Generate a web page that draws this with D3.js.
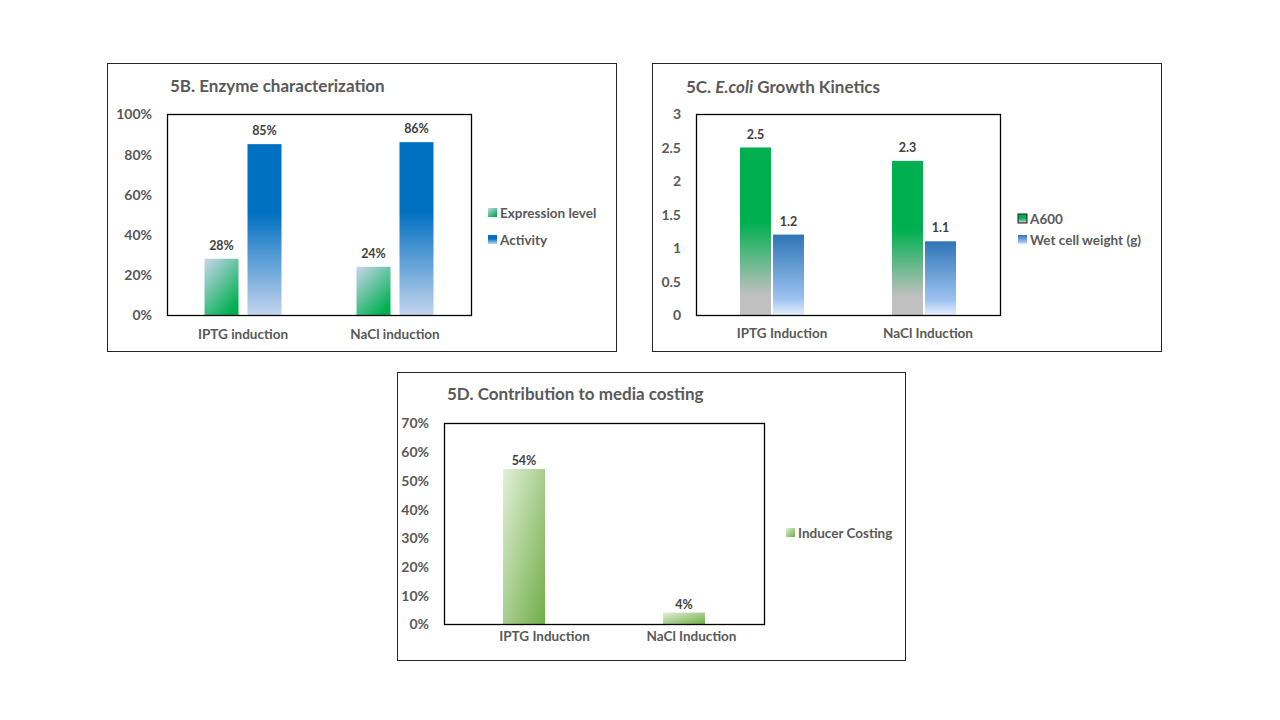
<!DOCTYPE html>
<html><head><meta charset="utf-8">
<script src="https://cdn.jsdelivr.net/npm/d3@7"></script>
<style>body{margin:0;background:#fff}svg text{font-family:Lato,"Open Sans",sans-serif;font-weight:bold}</style>
</head><body>
<svg id="c" width="1280" height="720"></svg>
<script>
// ---- data ----
const bCategories = ["IPTG induction", "NaCl induction"];
const bSeries = ["Expression level", "Activity"];
const bExpression = [0.28, 0.24];
const bActivity = [0.85, 0.86];
const bTicks = [0, 0.2, 0.4, 0.6, 0.8, 1.0];

const cCategories = ["IPTG Induction", "NaCl Induction"];
const cSeries = ["A600", "Wet cell weight (g)"];
const cA600 = [2.5, 2.3];
const cWet = [1.2, 1.1];
const cTicks = [0, 0.5, 1, 1.5, 2, 2.5, 3];

const dCategories = ["IPTG Induction", "NaCl Induction"];
const dSeries = ["Inducer Costing"];
const dCost = [0.54, 0.04];
const dTicks = [0, 0.1, 0.2, 0.3, 0.4, 0.5, 0.6, 0.7];

const svg = d3.select("#c");
const defs = svg.append("defs");
function grad(id, stops, x1, y1, x2, y2) {
  const g = defs.append("linearGradient").attr("id", id)
    .attr("x1", x1).attr("y1", y1).attr("x2", x2).attr("y2", y2);
  stops.forEach(s => g.append("stop").attr("offset", s[0]).attr("stop-color", s[1]));
}
grad("gExpr", [[0, "#c9d6ee"], [1, "#00b050"]], 0, 0, 0.7, 1);
grad("gAct", [[0, "#0070c0"], [0.4, "#0070c0"], [1, "#c3d4ee"]], 0, 0, 0, 1);
grad("gA600", [[0, "#00b050"], [0.45, "#00b050"], [0.88, "#c0c0c0"], [1, "#c0c0c0"]], 0, 0, 0, 1);
grad("gWet", [[0, "#2e75b6"], [0.8, "#9dc3f0"], [1, "#e6effc"]], 0, 0, 0, 1);
grad("gCost", [[0, "#e2f0d9"], [1, "#70ad47"]], 0, 0, 1, 1);

const txt = "#595959";

function panel(o) {
  const g = svg.append("g");
  g.append("rect").attr("x", o.box[0] + 0.5).attr("y", o.box[1] + 0.5)
    .attr("width", o.box[2]).attr("height", o.box[3])
    .attr("fill", "#fff").attr("stroke", "#262626").attr("stroke-width", 1);
  const t = g.append("text").attr("x", o.titleX).attr("y", o.titleY)
    .attr("fill", txt).attr("font-size", 17);
  o.title.forEach(p => t.append("tspan").attr("font-style", p.i ? "italic" : "normal").text(p.s));

  const x0 = d3.scaleBand().domain(o.cats).range([o.pl, o.pr]);
  const xl = d3.scaleBand().domain(o.cats).range(o.labRange);
  const y = d3.scaleLinear().domain([0, o.ymax]).range([o.pb, o.pt]);

  const ya = d3.axisLeft(y).tickValues(o.ticks).tickSize(0).tickPadding(0).tickFormat(o.tfmt);
  const yg = g.append("g").attr("transform", `translate(${o.pl - 15},0)`).call(ya);
  yg.select(".domain").remove();
  yg.selectAll("text").attr("fill", txt).attr("font-size", 14).attr("dy", "0.35em")
    .attr("font-family", "Lato,sans-serif").attr("font-weight", "bold");

  const xa = d3.axisBottom(xl).tickSize(0).tickPadding(0);
  const xg = g.append("g").attr("transform", `translate(0,${o.pb + o.labOff})`).call(xa);
  xg.select(".domain").remove();
  xg.selectAll("text").attr("fill", txt).attr("font-size", 13.5).attr("dy", "0")
    .attr("font-family", "Lato,sans-serif").attr("font-weight", "bold");

  o.series.forEach((s, si) => {
    s.vals.forEach((v, ci) => {
      const cx = x0(o.cats[ci]) + x0.bandwidth() / 2 + o.offsets[si];
      const bx = cx - o.bw / 2;
      g.append("rect").attr("x", bx).attr("y", y(v)).attr("width", o.bw)
        .attr("height", o.pb - y(v)).attr("fill", `url(#${s.grad})`);
      g.append("text").attr("x", cx).attr("y", y(v) - o.dlOff).attr("text-anchor", "middle")
        .attr("fill", "#404040").attr("font-size", 12.5).text(o.lfmt(v));
    });
    const ly = o.legY[si];
    g.append("rect").attr("x", o.legX).attr("y", ly - 5).attr("width", 9).attr("height", 9)
      .attr("fill", `url(#${s.grad})`).attr("stroke", s.lstroke || "none");
    g.append("text").attr("x", o.legX + 12).attr("y", ly).attr("dy", "0.35em")
      .attr("fill", txt).attr("font-size", 13.5).text(s.name);
  });

  g.append("rect").attr("x", o.pl + 0.5).attr("y", o.pt + 0.5)
    .attr("width", o.pr - o.pl).attr("height", o.pb - o.pt)
    .attr("fill", "none").attr("stroke", "#000").attr("stroke-width", 1.3);
}

const pct0 = d3.format(".0%");
panel({
  box: [107, 63, 509, 288], title: [{s: "5B. Enzyme characterization"}], titleX: 170, titleY: 92,
  cats: bCategories, pl: 167, pr: 471, pt: 114, pb: 315, ymax: 1.0, ticks: bTicks,
  labRange: [167, 471], labOff: 24, dlOff: 9,
  tfmt: pct0, lfmt: pct0, bw: 34, offsets: [-21.5, 21.5],
  series: [{name: bSeries[0], vals: bExpression, grad: "gExpr"}, {name: bSeries[1], vals: bActivity, grad: "gAct"}],
  legX: 488, legY: [213, 240]
});
panel({
  box: [652, 63, 509, 288], title: [{s: "5C. "}, {s: "E.coli", i: true}, {s: " Growth Kinetics"}], titleX: 686, titleY: 93,
  cats: cCategories, pl: 696, pr: 1000, pt: 114, pb: 315, ymax: 3, ticks: cTicks,
  labRange: [709, 1001], labOff: 23, dlOff: 9,
  tfmt: d3.format(""), lfmt: d3.format(".1f"), bw: 31, offsets: [-16.5, 16.5],
  series: [{name: cSeries[0], vals: cA600, grad: "gA600", lstroke: "#1a1a1a"}, {name: cSeries[1], vals: cWet, grad: "gWet"}],
  legX: 1018, legY: [219, 240]
});
panel({
  box: [397, 372, 508, 288], title: [{s: "5D. Contribution to media costing"}], titleX: 447, titleY: 400,
  cats: dCategories, pl: 444, pr: 764, pt: 423, pb: 624, ymax: 0.7, ticks: dTicks,
  labRange: [471, 765], labOff: 17, dlOff: 4,
  tfmt: pct0, lfmt: pct0, bw: 42, offsets: [0],
  series: [{name: dSeries[0], vals: dCost, grad: "gCost"}],
  legX: 786, legY: [533]
});
</script>
</body></html>
